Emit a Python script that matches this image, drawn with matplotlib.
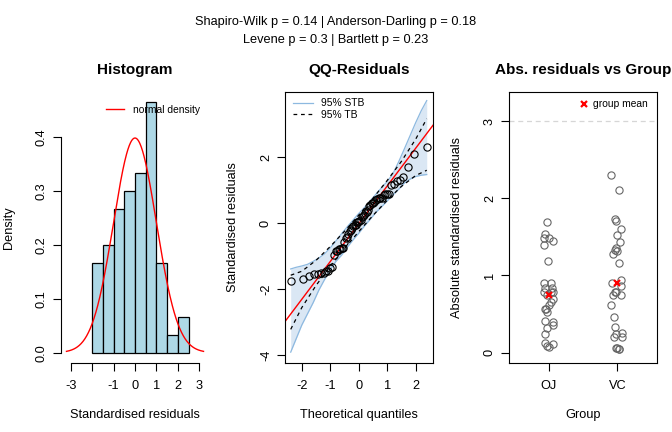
import numpy as np
import matplotlib
matplotlib.use('Agg')
import matplotlib.pyplot as plt
from statistics import NormalDist

# standardised residuals per group (ordered by absolute size)
oj_resid = [-1.694, -1.531, -1.490, -1.490, -1.450, 1.392, 1.188, 0.902, 0.902, -0.838,
            -0.838, 0.780, 0.780, 0.780, -0.743, 0.698, 0.658, 0.617, -0.566, 0.562,
            0.522, -0.416, 0.399, 0.358, 0.318, 0.236, -0.131, 0.114, -0.090, 0.073]
vc_resid = [2.302, 2.112, -1.735, 1.704, -1.599, -1.518, -1.436, -1.354, 1.324, -1.314,
            1.283, 1.160, -0.947, 0.902, 0.861, -0.783, -0.783, 0.753, -0.743, 0.617,
            -0.457, -0.335, 0.250, -0.240, 0.209, -0.199, -0.063, -0.063, 0.046, 0.046]

# horizontal jitter used in the right panel (same order as above)
oj_jitter = [-0.02, -0.05, -0.07, 0.00, 0.06, -0.07, -0.01, -0.07, 0.03, 0.05,
             -0.06, -0.07, 0.04, 0.06, -0.03, 0.06, 0.04, 0.00, -0.06, -0.04,
             -0.03, -0.05, 0.06, 0.06, -0.02, -0.05, -0.05, 0.06, -0.03, 0.00]
vc_jitter = [-0.09, 0.02, -0.04, -0.015, 0.06, 0.00, 0.035, -0.02, -0.04, -0.01,
             -0.055, 0.025, 0.06, -0.07, 0.05, -0.04, -0.02, 0.06, -0.06, -0.09,
             -0.05, -0.04, 0.07, -0.02, -0.05, 0.07, -0.02, 0.00, 0.02, 0.03]

groups = ['OJ', 'VC']
hist_breaks = [-2.0, -1.5, -1.0, -0.5, 0.0, 0.5, 1.0, 1.5, 2.0, 2.5]

# confidence bands
band_x = [-2.39, -2.2, -2.0, -1.8, -1.6, -1.4, -1.2, -1.0, -0.8, -0.6, -0.4, -0.2, 0.0,
          0.2, 0.4, 0.6, 0.8, 1.0, 1.2, 1.4, 1.6, 1.8, 2.0, 2.2, 2.39]
stb_upper = [-1.38, -1.33, -1.29, -1.24, -1.15, -1.05, -0.92, -0.74, -0.53, -0.31, -0.10, 0.10, 0.30,
             0.48, 0.68, 0.88, 1.08, 1.27, 1.50, 1.86, 2.25, 2.65, 3.05, 3.42, 3.72]
stb_lower = [-3.90, -3.50, -3.08, -2.74, -2.40, -2.02, -1.70, -1.40, -1.15, -0.96, -0.72, -0.50, -0.30,
             -0.08, 0.12, 0.33, 0.50, 0.68, 0.86, 1.03, 1.22, 1.34, 1.42, 1.46, 1.48]
tb_x = [-2.39, -2.0, -1.5, -1.0, -0.5, 0.0, 0.5, 1.0, 1.5, 2.0, 2.39]
tb_upper = [-1.57, -1.45, -1.12, -0.70, -0.24, 0.25, 0.76, 1.30, 1.88, 2.55, 3.17]
tb_lower = [-3.21, -2.55, -1.88, -1.30, -0.76, -0.25, 0.24, 0.70, 1.12, 1.45, 1.61]

p_values = {'Shapiro-Wilk': 0.14, 'Anderson-Darling': 0.18, 'Levene': 0.3, 'Bartlett': 0.23}

plt.rcParams['font.family'] = ['Liberation Sans', 'DejaVu Sans']
plt.rcParams['font.size'] = 9.2
plt.rcParams['axes.linewidth'] = 0.8
plt.rcParams['xtick.major.width'] = 0.8
plt.rcParams['ytick.major.width'] = 0.8
plt.rcParams['xtick.major.size'] = 5.5
plt.rcParams['ytick.major.size'] = 5.5
plt.rcParams['xtick.major.pad'] = 7
plt.rcParams['ytick.major.pad'] = 8.2

W, H = 672, 432
fig = plt.figure(figsize=(W / 100, H / 100), dpi=100)


def panel(left_px):
    return fig.add_axes([left_px / W, (H - 362.7) / H, 148 / W, 271 / H])


def style(ax, title, xlabel, ylabel):
    ax.text(0.5, 1.081, title, transform=ax.transAxes, ha='center', va='center',
            fontsize=11, fontweight='bold')
    ax.set_xlabel(xlabel)
    ax.set_ylabel(ylabel)
    ax.xaxis.set_label_coords(0.5, -0.171)
    ax.yaxis.set_label_coords(-0.311, 0.5)
    for lab in ax.get_yticklabels():
        lab.set_rotation(90)
        lab.set_va('center')
        lab.set_ha('center')


all_resid = np.array(oj_resid + vc_resid)

# --- Histogram ---
ax1 = panel(61)
ax1.hist(all_resid, bins=hist_breaks, density=True, color='#ADD8E6', edgecolor='black', linewidth=0.9)
xs = np.linspace(-3.2, 3.2, 300)
ax1.plot(xs, np.exp(-xs ** 2 / 2) / np.sqrt(2 * np.pi), color='red', linewidth=1, label='normal density')
ax1.set_xlim(-3.456, 3.456)
ax1.set_ylim(-0.0187, 0.485)
ax1.spines['top'].set_visible(False)
ax1.spines['right'].set_visible(False)
ax1.spines['left'].set_bounds(0, 0.4)
ax1.spines['bottom'].set_bounds(-3, 3)
ax1.set_xticks([-3, -2, -1, 0, 1, 2, 3])
ax1.set_xticklabels(['-3', '', '-1', '0', '1', '2', '3'])
ax1.set_yticks([0, 0.1, 0.2, 0.3, 0.4])
ax1.set_yticklabels(['0.0', '0.1', '0.2', '0.3', '0.4'])
ax1.legend(loc='center left', bbox_to_anchor=(0.304, 0.934), frameon=False, fontsize=7.4,
           borderpad=0, borderaxespad=0, handlelength=1.73, handletextpad=0.85)
style(ax1, 'Histogram', 'Standardised residuals', 'Density')

# --- QQ plot ---
ax2 = panel(285)
n = len(all_resid)
theo = np.array([NormalDist().inv_cdf((i + 0.5) / n) for i in range(n)])
sample = np.sort(all_resid)
ax2.fill_between(band_x, stb_lower, stb_upper, color='#DAE7F4', linewidth=0)
ax2.plot(band_x, stb_upper, color='#8DB9E0', linewidth=0.9, label='95% STB')
ax2.plot(band_x, stb_lower, color='#8DB9E0', linewidth=0.9)
ax2.plot(tb_x, tb_upper, color='black', linewidth=0.9, dashes=(3, 3), label='95% TB')
ax2.plot(tb_x, tb_lower, color='black', linewidth=0.9, dashes=(3, 3))
q1, q3 = np.quantile(sample, [0.25, 0.75])
z1, z3 = NormalDist().inv_cdf(0.25), NormalDist().inv_cdf(0.75)
slope = (q3 - q1) / (z3 - z1)
ax2.axline((z1, q1), slope=slope, color='red', linewidth=1)
ax2.plot(theo, sample, 'o', markerfacecolor='none', markeredgecolor='black', markersize=5.2,
         markeredgewidth=0.8, linestyle='none')
ax2.set_xlim(-2.59, 2.61)
ax2.set_ylim(-4.22, 3.99)
ax2.set_xticks([-2, -1, 0, 1, 2])
ax2.set_xticklabels(['-2', '-1', '0', '1', '2'])
ax2.set_yticks([-4, -2, 0, 2])
ax2.set_yticklabels(['-4', '-2', '0', '2'])
ax2.legend(loc='upper left', bbox_to_anchor=(0.056, 0.975), frameon=False, fontsize=7.4,
           borderpad=0, borderaxespad=0, handlelength=1.9, handletextpad=0.8, labelspacing=0.1)
style(ax2, 'QQ-Residuals', 'Theoretical quantiles', 'Standardised residuals')

# --- Absolute residuals by group ---
ax3 = panel(509)
ax3.axhline(3, color='#D6D6D6', linewidth=0.9, dashes=(4, 3))
for k, (res, jit) in enumerate([(oj_resid, oj_jitter), (vc_resid, vc_jitter)]):
    ax3.plot(np.array(jit) + k + 1, np.abs(res), 'o', markerfacecolor='none',
             markeredgecolor='#666666', markersize=5.2, markeredgewidth=0.8, linestyle='none')
means = [np.mean(np.abs(oj_resid)), np.mean(np.abs(vc_resid))]
ax3.plot([1, 2], means, 'x', color='red', markersize=4.5, markeredgewidth=1.6,
         linestyle='none', label='group mean')
ax3.set_xlim(0.42, 2.58)
ax3.set_ylim(-0.13, 3.38)
ax3.set_xticks([1, 2])
ax3.set_xticklabels(groups)
ax3.set_yticks([0, 1, 2, 3])
ax3.set_yticklabels(['0', '1', '2', '3'])
ax3.legend(loc='center left', bbox_to_anchor=(0.47, 0.954), frameon=False, fontsize=7.4,
           borderpad=0, borderaxespad=0, handlelength=1.0, handletextpad=0.45)
style(ax3, 'Abs. residuals vs Group', 'Group', 'Absolute standardised residuals')

fig.text(0.5, 1 - 22 / H, 'Shapiro-Wilk p = %s | Anderson-Darling p = %s'
         % (p_values['Shapiro-Wilk'], p_values['Anderson-Darling']), ha='center', va='center')
fig.text(0.5, 1 - 40 / H, 'Levene p = %s | Bartlett p = %s'
         % (p_values['Levene'], p_values['Bartlett']), ha='center', va='center')

plt.savefig('out.png', dpi=100)
